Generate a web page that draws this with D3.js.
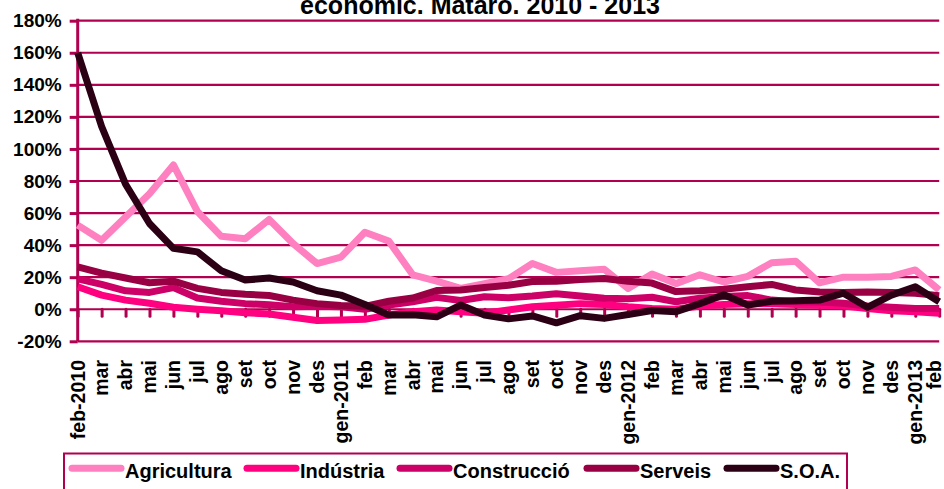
<!DOCTYPE html>
<html><head><meta charset="utf-8">
<script src="https://cdn.jsdelivr.net/npm/d3@7"></script>
<style>
html,body{margin:0;padding:0;background:#fff;}
svg{display:block;}
text{font-family:"Liberation Sans",Arial,sans-serif;font-weight:bold;fill:#000;}
</style></head>
<body>
<svg id="chart" width="944" height="489"></svg>
<script>
const months = ["feb-2010","mar","abr","mai","jun","jul","ago","set","oct","nov","des","gen-2011","feb","mar","abr","mai","jun","jul","ago","set","oct","nov","des","gen-2012","feb","mar","abr","mai","jun","jul","ago","set","oct","nov","des","gen-2013","feb"];
const agricultura = [52.5,43,57.5,72,90,61,45.5,44,56,41,28.5,32.5,48,42.5,21.5,17.5,13,16,19,28.5,23,24,25,13,22,16,21.5,17,20.5,29,30,16.5,20,20,20.5,24.5,12];
const industria = [14,8.8,5.7,3.7,1.2,0,-0.9,-2.2,-3,-5,-7,-6.7,-6.3,-3.6,-1.5,-0.5,-1.5,-2.5,-0.5,1.5,2.5,3.5,3,1.5,0.5,0,2,3,3.5,3.5,3,2.5,2,0.5,-1,-1.5,-2.5];
const construccio = [19,15.5,11.5,10.5,13.5,7,5,3.5,2.8,1.5,1.8,1.5,0,2.6,4.7,7.4,5.5,7.8,7.2,8.2,9.7,8.2,6.8,6.5,7.5,4.7,6.8,8,8.5,5.7,4.7,4.5,3.7,2,1.2,0.5,0.5];
const serveis = [26.5,22.5,19.5,16.5,17.5,13,10.5,9.3,8.6,5.7,3.5,2.3,1.8,5,7,11.7,12,13.6,15,17.3,17.4,18.6,19.2,17.5,16.3,11,11.5,12.5,14,15.5,12,10.7,10.5,10.8,10.5,10,8.5];
const soa = [160,114,78,53.5,38,35.8,24,18.2,19.5,17,11.5,8.8,3,-3.6,-3.4,-4.7,2.6,-3.6,-6,-4.2,-8.5,-4,-5.7,-3.3,-0.8,-1.5,3.5,9,2.6,5,5.3,5.7,10,1.2,8.8,14,4.7];
const seriesNames = ["Agricultura","Indústria","Construcció","Serveis","S.O.A."];
const seriesColors = ["#ff80c0","#ff0080","#cc0066","#990044","#2b0014"];
const yTicks = [-20,0,20,40,60,80,100,120,140,160,180];
const titleText = "econòmic. Mataró. 2010 - 2013";

const seriesValues = [agricultura, industria, construccio, serveis, soa];
const axisColor = "#b0004f";
const svg = d3.select("#chart");

const x = d3.scalePoint().domain(d3.range(months.length)).range([77.7, 939.2]);
const y = d3.scaleLinear().domain([-20,180]).range([341.3, 20.7]);

// title (second line, partially clipped at top)
svg.append("text").attr("x", 480).attr("y", 14).attr("text-anchor","middle")
  .style("font-size","25px").text(titleText);

// gridlines
svg.append("g").selectAll("line").data(yTicks).join("line")
  .attr("x1", 77.7).attr("x2", 939.2)
  .attr("y1", d=>y(d)).attr("y2", d=>y(d))
  .attr("stroke", axisColor).attr("stroke-width", 2.2);

// y axis
const yAxis = d3.axisLeft(y).tickValues(yTicks).tickFormat(d=>d+"%").tickSize(8).tickPadding(8);
const gy = svg.append("g").attr("transform","translate(77.7,0)").call(yAxis);
gy.select(".domain").attr("stroke", axisColor).attr("stroke-width", 3);
gy.selectAll(".tick line").attr("stroke", axisColor).attr("stroke-width", 3);
gy.selectAll(".tick text").style("font-size","19px").style("font-family","'Liberation Sans',Arial,sans-serif").style("font-weight","bold").attr("fill","#000");
gy.select(".domain").attr("d", `M0,${y(180)-2}V${y(-20)}`);

// category ticks at 0 line
const xAxis = d3.axisBottom(x).tickSize(7).tickFormat("");
const gx = svg.append("g").attr("transform",`translate(0,${y(0)})`).call(xAxis);
gx.select(".domain").remove();
gx.selectAll(".tick line").attr("stroke", axisColor).attr("stroke-width", 3).attr("stroke-linecap","round");

// category labels
svg.append("g").selectAll("text").data(months).join("text")
  .attr("transform",(d,i)=>`translate(${Math.min(x(i), 934.5)},360) rotate(-90)`)
  .attr("text-anchor","end").attr("dy","0.35em")
  .style("font-size","19.5px").text(d=>d);

// lines
const line = d3.line().x((d,i)=>x(i)).y(d=>y(d)).curve(d3.curveLinear);
svg.append("g").selectAll("path").data(seriesValues).join("path")
  .attr("d", d=>line(d)).attr("fill","none")
  .attr("stroke",(d,i)=>seriesColors[i]).attr("stroke-width",7)
  .attr("stroke-linejoin","round");

// legend
svg.append("rect").attr("x",64).attr("y",453.5).attr("width",783).attr("height",50)
  .attr("fill","#fff").attr("stroke",axisColor).attr("stroke-width",2);
const legX = [72,247,400,587,727];
const lg = svg.append("g").selectAll("g").data(seriesNames).join("g")
  .attr("transform",(d,i)=>`translate(${legX[i]},468.3)`);
lg.append("line").attr("x1",0).attr("x2",49).attr("stroke",(d,i)=>seriesColors[i])
  .attr("stroke-width",7).attr("stroke-linecap","round");
lg.append("text").attr("x",53).attr("y",10).style("font-size","20px").text(d=>d);
</script>
</body></html>
